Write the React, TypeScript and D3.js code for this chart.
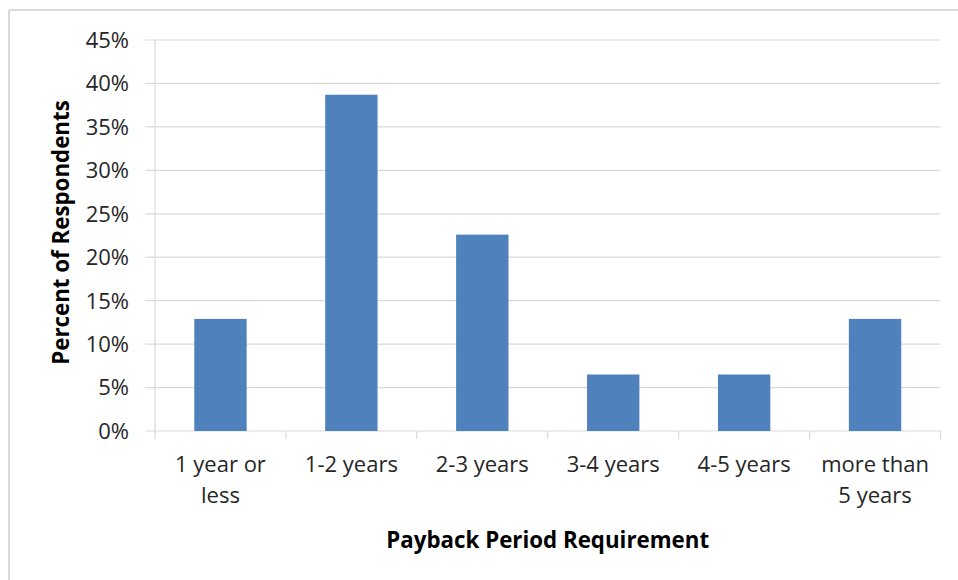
import React from "react";
import * as d3 from "d3";

const categories: string[][] = [
  ["1 year or", "less"],
  ["1-2 years"],
  ["2-3 years"],
  ["3-4 years"],
  ["4-5 years"],
  ["more than", "5 years"],
];
const values: number[] = [12.9, 38.7, 22.6, 6.5, 6.5, 12.9];
const yTicks: number[] = [0, 5, 10, 15, 20, 25, 30, 35, 40, 45];
const xTitle = "Payback Period Requirement";
const yTitle = "Percent of Respondents";

const W = 958;
const H = 580;
const left = 155;
const right = 940.5;
const top = 40;
const bottom = 431;
const FONT = "'Open Sans', sans-serif";

export default function App() {
  const keys = categories.map((_, i) => String(i));
  const x = d3.scaleBand<string>().domain(keys).range([left, right]).paddingInner(0).paddingOuter(0);
  const y = d3.scaleLinear().domain([0, 45]).range([bottom, top]);
  const bw = x.bandwidth() * 0.4;
  const grid = "#d9d9d9";
  return (
    <div style={{ position: "absolute", left: 0, top: 0 }}>
      <svg width={W} height={H} style={{ display: "block" }}>
        <rect x={0} y={0} width={W} height={H} fill="#fff" />
        <line x1={9} x2={W} y1={10} y2={10} stroke="#d9d9d9" strokeWidth={2} />
        <line x1={9} x2={9} y1={10} y2={H} stroke="#d9d9d9" strokeWidth={2} />
        {yTicks.map((t) => (
          <g key={t}>
            <line x1={left - 10} x2={right} y1={y(t)} y2={y(t)} stroke={grid} strokeWidth={1.2} />
            <text x={129} y={y(t)} dy="0.36em" textAnchor="end" fontFamily={FONT} fontSize={22} fill="#262626">
              {t}%
            </text>
          </g>
        ))}
        <line x1={left} x2={left} y1={top} y2={bottom} stroke={grid} strokeWidth={1.2} />
        {keys.map((k) => (
          <line key={"t" + k} x1={x(k)!} x2={x(k)!} y1={bottom} y2={bottom + 8} stroke={grid} strokeWidth={1.2} />
        ))}
        <line x1={right} x2={right} y1={bottom} y2={bottom + 8} stroke={grid} strokeWidth={1.2} />
        {values.map((v, i) => {
          const cx = x(String(i))! + x.bandwidth() / 2;
          return (
            <rect key={i} x={cx - bw / 2} y={y(v)} width={bw} height={y(0) - y(v)} fill="#4f81bd" />
          );
        })}
        {categories.map((lines, i) => {
          const cx = x(String(i))! + x.bandwidth() / 2;
          return (
            <text key={"c" + i} x={cx} y={472} textAnchor="middle" fontFamily={FONT} fontSize={22} fill="#262626">
              {lines.map((l, j) => (
                <tspan key={j} x={cx} dy={j === 0 ? 0 : 31}>
                  {l}
                </tspan>
              ))}
            </text>
          );
        })}
        <text x={(left + right) / 2} y={548} textAnchor="middle" fontFamily={FONT} fontSize={22.3} fontWeight="bold" fill="#000">
          {xTitle}
        </text>
        <text
          transform={`translate(69, ${(top + bottom) / 2 - 3}) rotate(-90)`}
          textAnchor="middle"
          fontFamily={FONT}
          fontSize={22.3}
          fontWeight="bold"
          fill="#000"
        >
          {yTitle}
        </text>
      </svg>
    </div>
  );
}
